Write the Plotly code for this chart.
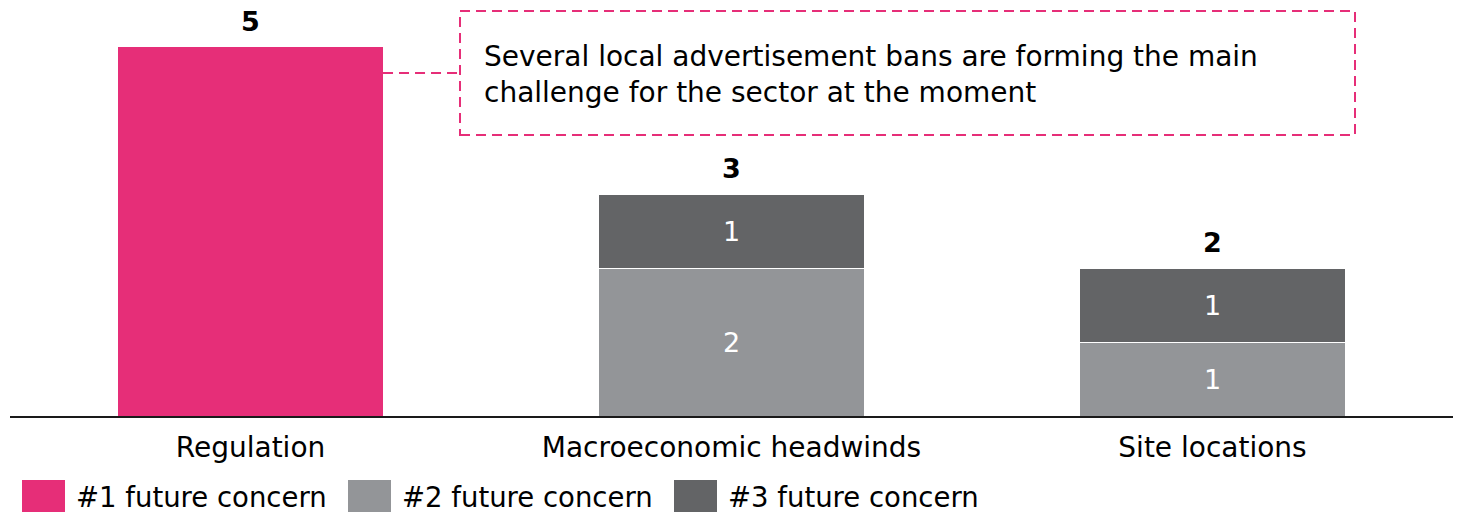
import plotly.graph_objects as go

# --- data -------------------------------------------------------------
categories = ["Regulation", "Macroeconomic headwinds", "Site locations"]
series_names = ["#1 future concern", "#2 future concern", "#3 future concern"]
concern_1 = [5, None, None]
concern_2 = [None, 2, 1]
concern_3 = [None, 1, 1]
totals = [5, 3, 2]
callout_text = ("Several local advertisement bans are forming the main<br>"
                "challenge for the sector at the moment")

# --- styling ------------------------------------------------------------
colors = ["#E62E78", "#939598", "#636466"]
FONT = "DejaVu Sans"
W, H = 1461, 514
ML, MR, MT, MB = 10, 8, 10, 98
PW, PH = W - ML - MR, H - MT - MB
UNIT_PX = 73.9


def px(x):
    """pixel x -> paper x"""
    return (x - ML) / PW


def py(y):
    """pixel y -> paper y"""
    return (H - MB - y) / PH


fig = go.Figure()
series_values = [concern_1, concern_2, concern_3]
for i, (name, vals) in enumerate(zip(series_names, series_values)):
    fig.add_trace(go.Bar(
        x=categories,
        y=vals,
        name=name,
        marker=dict(color=colors[i], line=dict(color="white", width=1)),
        text=None if i == 0 else [("" if v is None else str(v)) for v in vals],
        textposition="inside",
        insidetextanchor="middle",
        textfont=dict(family=FONT, size=27, color="white"),
        constraintext="none",
        showlegend=False,
        hoverinfo="skip",
    ))

# totals above each stack
for cat, tot in zip(categories, totals):
    fig.add_annotation(
        x=cat, y=tot, text=f"<b>{tot}</b>", showarrow=False,
        yanchor="bottom", yshift=8,
        font=dict(family=FONT, size=27, color="#000000"),
    )

# callout box and connector
dash_pink = dict(color=colors[0], width=2, dash="10px,6px")
fig.add_shape(type="rect", xref="paper", yref="paper",
              x0=px(460), x1=px(1355), y0=py(135), y1=py(11),
              line=dash_pink, fillcolor="rgba(0,0,0,0)")
fig.add_shape(type="line", xref="x", yref="paper",
              x0=0.2755, x1=0.2755 + (460 - 384) / (PW / 3),
              y0=py(73), y1=py(73), line=dash_pink)
fig.add_annotation(
    xref="paper", yref="paper", x=px(482), y=py(74),
    xanchor="left", yanchor="middle", align="left",
    text=callout_text, showarrow=False,
    font=dict(family=FONT, size=28, color="#000000"),
)

# legend row
legend_x = [22, 348, 674]
for i, name in enumerate(series_names):
    x0 = legend_x[i]
    fig.add_shape(type="rect", xref="paper", yref="paper",
                  x0=px(x0), x1=px(x0 + 43), y0=py(512), y1=py(480),
                  line=dict(width=0), fillcolor=colors[i])
    fig.add_annotation(
        xref="paper", yref="paper", x=px(x0 + 52), y=py(497),
        xanchor="left", yanchor="middle", text=name, showarrow=False,
        font=dict(family=FONT, size=27.5, color="#000000"),
    )

fig.update_layout(
    width=W, height=H,
    margin=dict(l=ML, r=MR, t=MT, b=MB),
    barmode="stack",
    bargap=0.449,
    plot_bgcolor="white",
    paper_bgcolor="white",
    showlegend=False,
    xaxis=dict(
        showline=True, linecolor="#1a1a1a", linewidth=2,
        ticks="", showgrid=False, zeroline=False,
        tickfont=dict(family=FONT, size=28, color="#000000"),
        ticklabelstandoff=5,
        fixedrange=True,
    ),
    yaxis=dict(
        range=[0, PH / UNIT_PX], visible=False, showgrid=False,
        zeroline=False, fixedrange=True,
    ),
    uniformtext=dict(mode=False),
)

fig.write_html("out.html", config={"displayModeBar": False})
